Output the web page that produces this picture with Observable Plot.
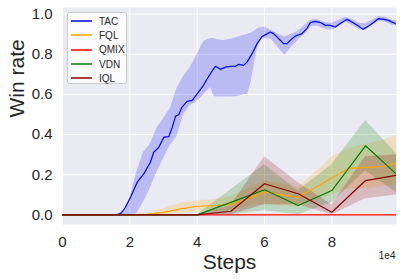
<!DOCTYPE html>
<html><head><meta charset="utf-8">
<script src="https://cdn.jsdelivr.net/npm/d3@7"></script>
<script src="https://cdn.jsdelivr.net/npm/@observablehq/plot@0.6"></script>
<style>
body{margin:0;background:#fff;font-family:"Liberation Sans",Arial,sans-serif;}
#wrap{position:relative;width:403px;height:279px;}
#legend{position:absolute;left:67px;top:12px;width:60px;height:72px;background:rgba(255,255,255,0.8);border:1px solid #cccccc;border-radius:3px;box-sizing:border-box;padding-top:1px;}
.row{height:14.3px;display:flex;align-items:center;font-size:10px;color:#262626;}
.row svg{margin-left:3px;margin-right:7px;}
</style></head><body><div id="wrap"></div>
<script>
// ---- data ----
const seriesNames = ["TAC", "FQL", "QMIX", "VDN", "IQL"];
const seriesColors = ["#0000ff", "#ffa500", "#ff0000", "#008000", "#8b0000"];

const tacSteps = [0,5000,10000,15000,16500,17500,18700,20200,22200,24150,26100,27100,28600,30100,31600,32600,33600,34500,35500,37000,38500,40000,41500,43000,44400,45400,46900,48400,50000,51400,52300,53800,54800,56300,57800,59300,60300,61700,62700,64200,65700,66700,68200,69200,71100,72600,73600,75100,76600,78100,79500,81000,82500,84500,86000,87900,89200,90900,92400,93900,95400,96800,98800,100000];
const tacWin = [0,0,0,0,0.002,0.01,0.038,0.088,0.163,0.204,0.262,0.312,0.337,0.387,0.39,0.437,0.492,0.499,0.537,0.565,0.57,0.603,0.636,0.678,0.716,0.74,0.725,0.736,0.74,0.74,0.75,0.745,0.761,0.803,0.853,0.889,0.898,0.911,0.903,0.878,0.853,0.853,0.878,0.891,0.903,0.928,0.958,0.964,0.958,0.944,0.944,0.936,0.953,0.974,0.961,0.941,0.924,0.941,0.958,0.978,0.974,0.969,0.953,0.945];

const tacBandSteps = [0,16000,18000,20000,22000,24000,26000,28000,30000,32000,34000,36000,38000,40000,42000,44000,45000,46000,48000,50000,52000,54000,55000,56000,57000,58000,59000,60000,62000,64000,66000,68000,70000,72000,74000,76000,78000,80000,82000,84000,86000,88000,90000,92000,94000,96000,98000,100000];
const tacLow  = [0,0,0,0,0.005,0.06,0.13,0.21,0.28,0.345,0.39,0.5,0.545,0.565,0.6,0.635,0.59,0.587,0.587,0.587,0.59,0.6,0.6,0.66,0.75,0.84,0.875,0.88,0.875,0.835,0.795,0.835,0.87,0.9,0.94,0.94,0.925,0.92,0.935,0.96,0.945,0.925,0.92,0.945,0.965,0.96,0.945,0.94];
const tacHigh = [0,0,0.015,0.08,0.21,0.31,0.35,0.43,0.48,0.53,0.63,0.69,0.735,0.8,0.865,0.878,0.878,0.872,0.868,0.875,0.885,0.895,0.9,0.905,0.915,0.928,0.932,0.935,0.92,0.9,0.886,0.9,0.915,0.945,0.972,0.972,0.958,0.955,0.968,0.985,0.975,0.955,0.952,0.97,0.988,0.984,0.97,0.965];

const fqlSteps = [0,5000,10000,15000,20000,25000,30000,35000,40000,45000,50000,55000,60000,65000,70000,75000,80000,85000,90000,95000,100000];
const fqlWin  = [0,0,0,0,0,0.002,0.012,0.03,0.043,0.046,0.052,0.08,0.113,0.1,0.088,0.135,0.184,0.232,0.237,0.24,0.262];
const fqlLow  = [0,0,0,0,0,0,0,0.008,0.012,0.015,0.02,0.04,0.055,0.045,0.04,0.07,0.1,0.13,0.13,0.14,0.15];
const fqlHigh = [0,0,0,0,0,0.008,0.03,0.058,0.07,0.075,0.09,0.13,0.17,0.155,0.135,0.21,0.29,0.33,0.35,0.37,0.4];

const tenSteps = [0,10000,20000,30000,40000,50000,60000,70000,80000,90000,100000];
const qmixWin = [0,0,0,0,0,0,0,0,0,0,0];
const vdnWin  = [0,0,0,0,0,0.062,0.125,0.047,0.121,0.344,0.19];
const vdnLow  = [0,0,0,0,0,0,0.02,0,0.06,0.22,0.1];
const vdnHigh = [0,0,0,0,0,0.125,0.25,0.12,0.25,0.47,0.29];
const iqlWin  = [0,0,0,0,0,0.018,0.155,0.105,0.013,0.171,0.2];
const iqlLow  = [0,0,0,0,0,0,0.05,0.05,0,0.08,0.1];
const iqlHigh = [0,0,0,0,0,0.045,0.29,0.16,0.05,0.29,0.3];

const xTicks = [0,20000,40000,60000,80000];
const yTicks = [0,0.2,0.4,0.6,0.8,1.0];

// ---- build tables ----
const rows = (steps, win, lo, hi) => steps.map((s,i) => ({s, w: win[i], lo: lo ? lo[i] : win[i], hi: hi ? hi[i] : win[i]}));
const tac = rows(tacSteps, tacWin);
const tacBand = rows(tacBandSteps, tacLow, tacLow, tacHigh);
const fql = rows(fqlSteps, fqlWin, fqlLow, fqlHigh);
const qmix = rows(tenSteps, qmixWin);
const vdn = rows(tenSteps, vdnWin, vdnLow, vdnHigh);
const iql = rows(tenSteps, iqlWin, iqlLow, iqlHigh);

const band = (d, c) => Plot.areaY(d, {x: "s", y1: "lo", y2: "hi", fill: c, fillOpacity: 0.2, clip: true});
const line = (d, c) => Plot.lineY(d, {x: "s", y: "w", stroke: c, strokeWidth: 1.2, clip: true});

const chart = Plot.plot({
  width: 403, height: 279,
  marginLeft: 62, marginRight: 7, marginTop: 7, marginBottom: 55,
  style: {fontFamily: "'Liberation Sans', Arial, sans-serif", color: "#262626", background: "transparent", overflow: "visible"},
  x: {domain: [0, 99200]},
  y: {domain: [-0.048, 1.033]},
  marks: [
    Plot.frame({fill: "#eaeaf2", stroke: null}),
    Plot.gridX(xTicks, {stroke: "white", strokeOpacity: 1, strokeWidth: 1}),
    Plot.gridY(yTicks, {stroke: "white", strokeOpacity: 1, strokeWidth: 1}),
    band(tacBand, seriesColors[0]),
    band(fql, seriesColors[1]),
    band(vdn, seriesColors[3]),
    band(iql, seriesColors[4]),
    line(tac, seriesColors[0]),
    line(fql, seriesColors[1]),
    line(qmix, seriesColors[2]),
    line(vdn, seriesColors[3]),
    line(iql, seriesColors[4]),
    Plot.axisX({ticks: xTicks, tickFormat: d => d / 1e4, tickSize: 0, tickPadding: 12, fontSize: 15, label: null}),
    Plot.axisY({ticks: yTicks, tickFormat: d3.format(".1f"), tickSize: 0, tickPadding: 10, fontSize: 15, label: null}),
    Plot.text(["Steps"], {text: d => d, frameAnchor: "bottom", dy: 38, fontSize: 21, lineAnchor: "middle"}),
    Plot.text(["Win rate"], {text: d => d, frameAnchor: "left", rotate: -90, dx: -45, dy: 1.5, fontSize: 21, lineAnchor: "middle"}),
    Plot.text(["1e4"], {text: d => d, frameAnchor: "bottom-right", textAnchor: "end", dx: -1, dy: 31, fontSize: 10, lineAnchor: "middle"})
  ]
});
const wrap = document.getElementById("wrap");
wrap.appendChild(chart);

// legend
const leg = document.createElement("div");
leg.id = "legend";
seriesNames.forEach((n, i) => {
  const r = document.createElement("div");
  r.className = "row";
  r.innerHTML = `<svg width="21" height="4"><line x1="0" x2="21" y1="2" y2="2" stroke="${seriesColors[i]}" stroke-width="1.5"/></svg><span>${n}</span>`;
  leg.appendChild(r);
});
wrap.appendChild(leg);
</script>
</body></html>
